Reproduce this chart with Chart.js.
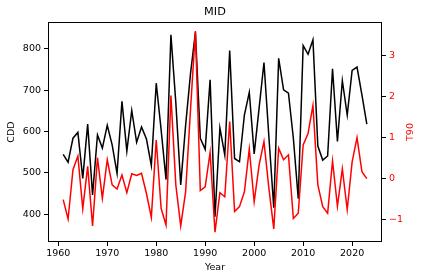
<!DOCTYPE html>
<html>
<head>
<meta charset="utf-8">
<script src="https://cdn.jsdelivr.net/npm/chart.js@4"></script>
<style>
html,body{margin:0;padding:0;background:#fff;}
#wrap{width:424px;height:280px;}
</style>
</head>
<body>
<div id="wrap"><canvas id="c" width="424" height="280"></canvas></div>
<script>
const years = [1961,1962,1963,1964,1965,1966,1967,1968,1969,1970,
  1971,1972,1973,1974,1975,1976,1977,1978,1979,1980,
  1981,1982,1983,1984,1985,1986,1987,1988,1989,1990,
  1991,1992,1993,1994,1995,1996,1997,1998,1999,2000,
  2001,2002,2003,2004,2005,2006,2007,2008,2009,2010,
  2011,2012,2013,2014,2015,2016,2017,2018,2019,2020,
  2021,2022,2023];
const cdd = [545,526,584,598,487,618,447,592,560,615,
  568,499,673,553,651,574,611,582,518,717,
  604,484,834,670,471,615,740,840,584,557,
  725,394,609,543,796,535,527,640,695,546,
  656,767,588,416,777,701,693,584,438,808,
  787,822,565,531,541,752,576,723,640,748,
  756,689,618];
const t90 = [-0.51,-0.98,0.22,0.55,-0.73,0.30,-1.15,0.51,-0.48,0.46,
  -0.15,-0.25,0.09,-0.34,0.12,0.08,0.13,-0.36,-0.94,0.94,
  -0.72,-1.13,2.02,-0.15,-1.15,-0.32,1.68,3.59,-0.29,-0.20,
  0.64,-1.30,-0.34,-0.44,1.39,-0.80,-0.68,-0.32,0.72,-0.56,
  0.33,0.90,-0.23,-1.22,0.74,0.46,0.58,-0.97,-0.84,0.82,
  1.10,1.78,-0.15,-0.68,-0.84,0.43,-0.67,0.24,-0.75,0.41,
  1.00,0.17,0.00];
const xTicks = [1960,1970,1980,1990,2000,2010,2020];
const leftTicks = [400,500,600,700,800];
const rightTicks = [-1,0,1,2,3];
const titleText = 'MID';
const xLabel = 'Year';
const leftLabel = 'CDD';
const rightLabel = 'T90';

const FONT = "'DejaVu Sans', sans-serif";
const tickFont = {family: "'DejaVu Sans', sans-serif", size: 9.5};

const labelsPlugin = {
  id: 'labels',
  afterDraw(chart) {
    const ctx = chart.ctx;
    const a = chart.chartArea;
    ctx.save();
    // frame
    ctx.strokeStyle = '#000';
    ctx.lineWidth = 1;
    ctx.strokeRect(Math.round(a.left) + 0.5, Math.round(a.top) + 0.5,
      Math.round(a.right - a.left) - 1, Math.round(a.bottom - a.top) - 1);
    const cx = (a.left + a.right) / 2;
    const cy = (a.top + a.bottom) / 2;
    ctx.textAlign = 'center';
    ctx.textBaseline = 'middle';
    ctx.fillStyle = '#000';
    ctx.font = "11.3px " + FONT;
    ctx.fillText(titleText, cx, 12.5);
    ctx.font = "9.5px " + FONT;
    ctx.fillText(xLabel, cx, 268);
    ctx.save();
    ctx.translate(12, cy);
    ctx.rotate(-Math.PI / 2);
    ctx.fillText(leftLabel, 0, 0);
    ctx.restore();
    ctx.save();
    ctx.fillStyle = '#ff0000';
    ctx.translate(410.5, cy);
    ctx.rotate(-Math.PI / 2);
    ctx.fillText(rightLabel, 0, 0);
    ctx.restore();
    ctx.restore();
  }
};

new Chart(document.getElementById('c'), {
  type: 'line',
  data: {
    datasets: [
      {
        label: 'T90',
        data: years.map((y, i) => ({x: y, y: t90[i]})),
        borderColor: '#ff0000',
        borderWidth: 1.5,
        pointRadius: 0,
        tension: 0,
        yAxisID: 'y2',
        order: 0
      },
      {
        label: 'CDD',
        data: years.map((y, i) => ({x: y, y: cdd[i]})),
        borderColor: '#000000',
        borderWidth: 1.5,
        pointRadius: 0,
        tension: 0,
        yAxisID: 'y',
        order: 1
      }
    ]
  },
  options: {
    responsive: false,
    animation: false,
    devicePixelRatio: 1,
    layout: {padding: {top: 22, left: 0, right: 0, bottom: 0}},
    plugins: {legend: {display: false}, tooltip: {enabled: false}, title: {display: false}},
    scales: {
      x: {
        type: 'linear',
        min: 1957.9,
        max: 2026.1,
        afterBuildTicks: s => { s.ticks = xTicks.map(v => ({value: v})); },
        afterFit: s => { s.height = 38; },
        ticks: {color: '#000', font: tickFont, padding: 2, maxRotation: 0, autoSkip: false,
          callback: v => String(v)},
        grid: {display: true, drawOnChartArea: false, drawTicks: true, tickLength: 4, color: '#000'},
        border: {display: false}
      },
      y: {
        type: 'linear',
        position: 'left',
        min: 333,
        max: 865,
        afterBuildTicks: s => { s.ticks = leftTicks.map(v => ({value: v})); },
        afterFit: s => { s.width = 48; },
        ticks: {color: '#000', font: tickFont, padding: 3, autoSkip: false,
          callback: v => String(v)},
        grid: {display: true, drawOnChartArea: false, drawTicks: true, tickLength: 4, color: '#000'},
        border: {display: false}
      },
      y2: {
        type: 'linear',
        position: 'right',
        min: -1.54,
        max: 3.81,
        afterBuildTicks: s => { s.ticks = rightTicks.map(v => ({value: v})); },
        afterFit: s => { s.width = 42; },
        ticks: {color: '#ff0000', font: tickFont, padding: 3, autoSkip: false,
          callback: v => (v < 0 ? '\u2212' + Math.abs(v) : String(v))},
        grid: {display: true, drawOnChartArea: false, drawTicks: true, tickLength: 4, color: '#000'},
        border: {display: false}
      }
    }
  },
  plugins: [labelsPlugin]
});
</script>
</body>
</html>
